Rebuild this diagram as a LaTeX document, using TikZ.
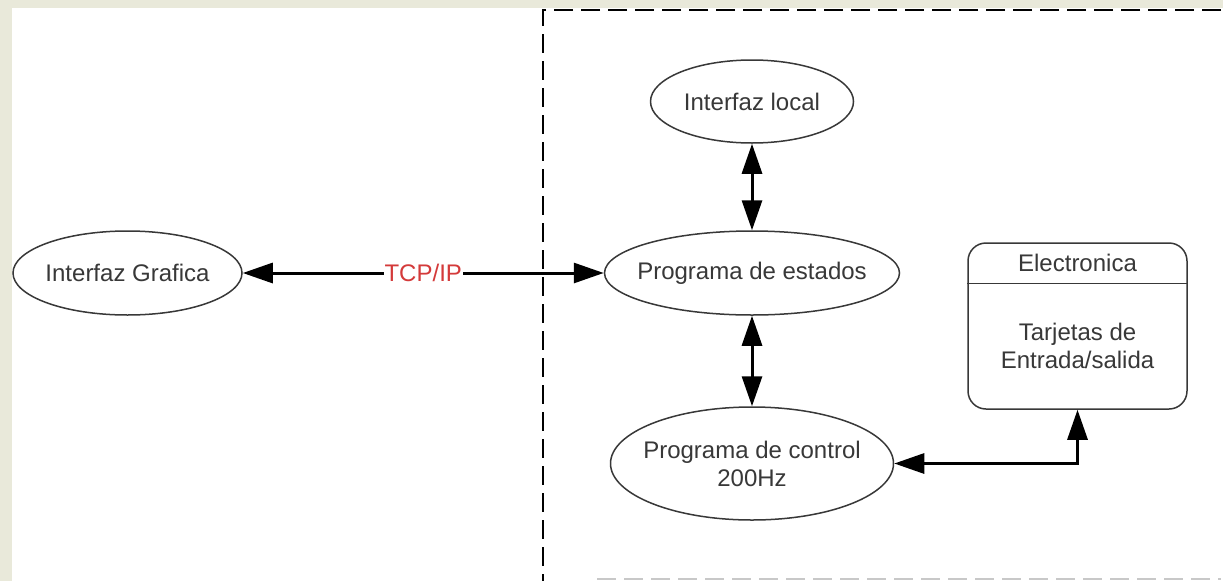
\documentclass[tikz,border=0pt]{standalone}
\usepackage{fontspec}
\setmainfont{Liberation Sans}
\usetikzlibrary{shapes.geometric,arrows.meta}
\definecolor{bgtex}{HTML}{E9E9DA}
\definecolor{txt}{HTML}{383838}
\definecolor{tcpred}{HTML}{D43A3A}
\definecolor{dashgray}{HTML}{C8C8C8}
\begin{document}
\begin{tikzpicture}[x=1pt,y=-1pt,
  font=\fontsize{24}{28}\selectfont,
  ell/.style={ellipse, draw=txt, line width=1.5pt, inner sep=0pt},
  elltext/.style={text=txt, align=center},
  arr/.style={line width=3pt, {Triangle[length=30pt,width=20pt]}-{Triangle[length=30pt,width=20pt]}},
  boundary/.style={line width=2pt, dash pattern=on 19pt off 8pt}]
\fill[bgtex] (0,0) rectangle (1223,581);
\fill[white] (12,8) rectangle (1223,581);
\useasboundingbox (0,0) rectangle (1223,581);
% dashed boundary
\draw[boundary] (1221,10) -- (543,10) -- (543,581);
\draw[boundary, dashgray] (597,579) -- (1221,579);
% nodes
\node[ell, minimum width=229pt, minimum height=84pt, label={[elltext]center:Interfaz Grafica}] (gui) at (127.5,273) {};
\node[ell, minimum width=203pt, minimum height=83pt, label={[elltext]center:Interfaz local}] (loc) at (752,101.5) {};
\node[ell, minimum width=295pt, minimum height=84pt, label={[elltext]center:Programa de estados}] (est) at (752,273) {};
\node[ell, minimum width=283pt, minimum height=113pt, label={[elltext]center:Programa de control\\200Hz}] (ctrl) at (752,463.5) {};
\node[draw=txt, line width=1.5pt, rounded corners=18pt, minimum width=219pt, minimum height=166pt, inner sep=0pt] (elec) at (1077.5,326) {};
\draw[line width=1.5pt, txt] ([yshift=-41pt]elec.north west) -- ([yshift=-41pt]elec.north east);
\node[text=txt] (elechead) at (1077.5,263) {Electronica};
\node[text=txt, align=center] (elecbody) at (1077.5,346) {Tarjetas de\\Entrada/salida};
% connectors
\draw[arr] (gui.east) -- node[fill=white, text=tcpred, inner sep=1pt] (tcp) {TCP/IP} (est.west);
\draw[arr] (loc) -- (est);
\draw[arr] (est) -- (ctrl);
\draw[arr] (ctrl.east) -| (elec.south);
\end{tikzpicture}
\end{document}
